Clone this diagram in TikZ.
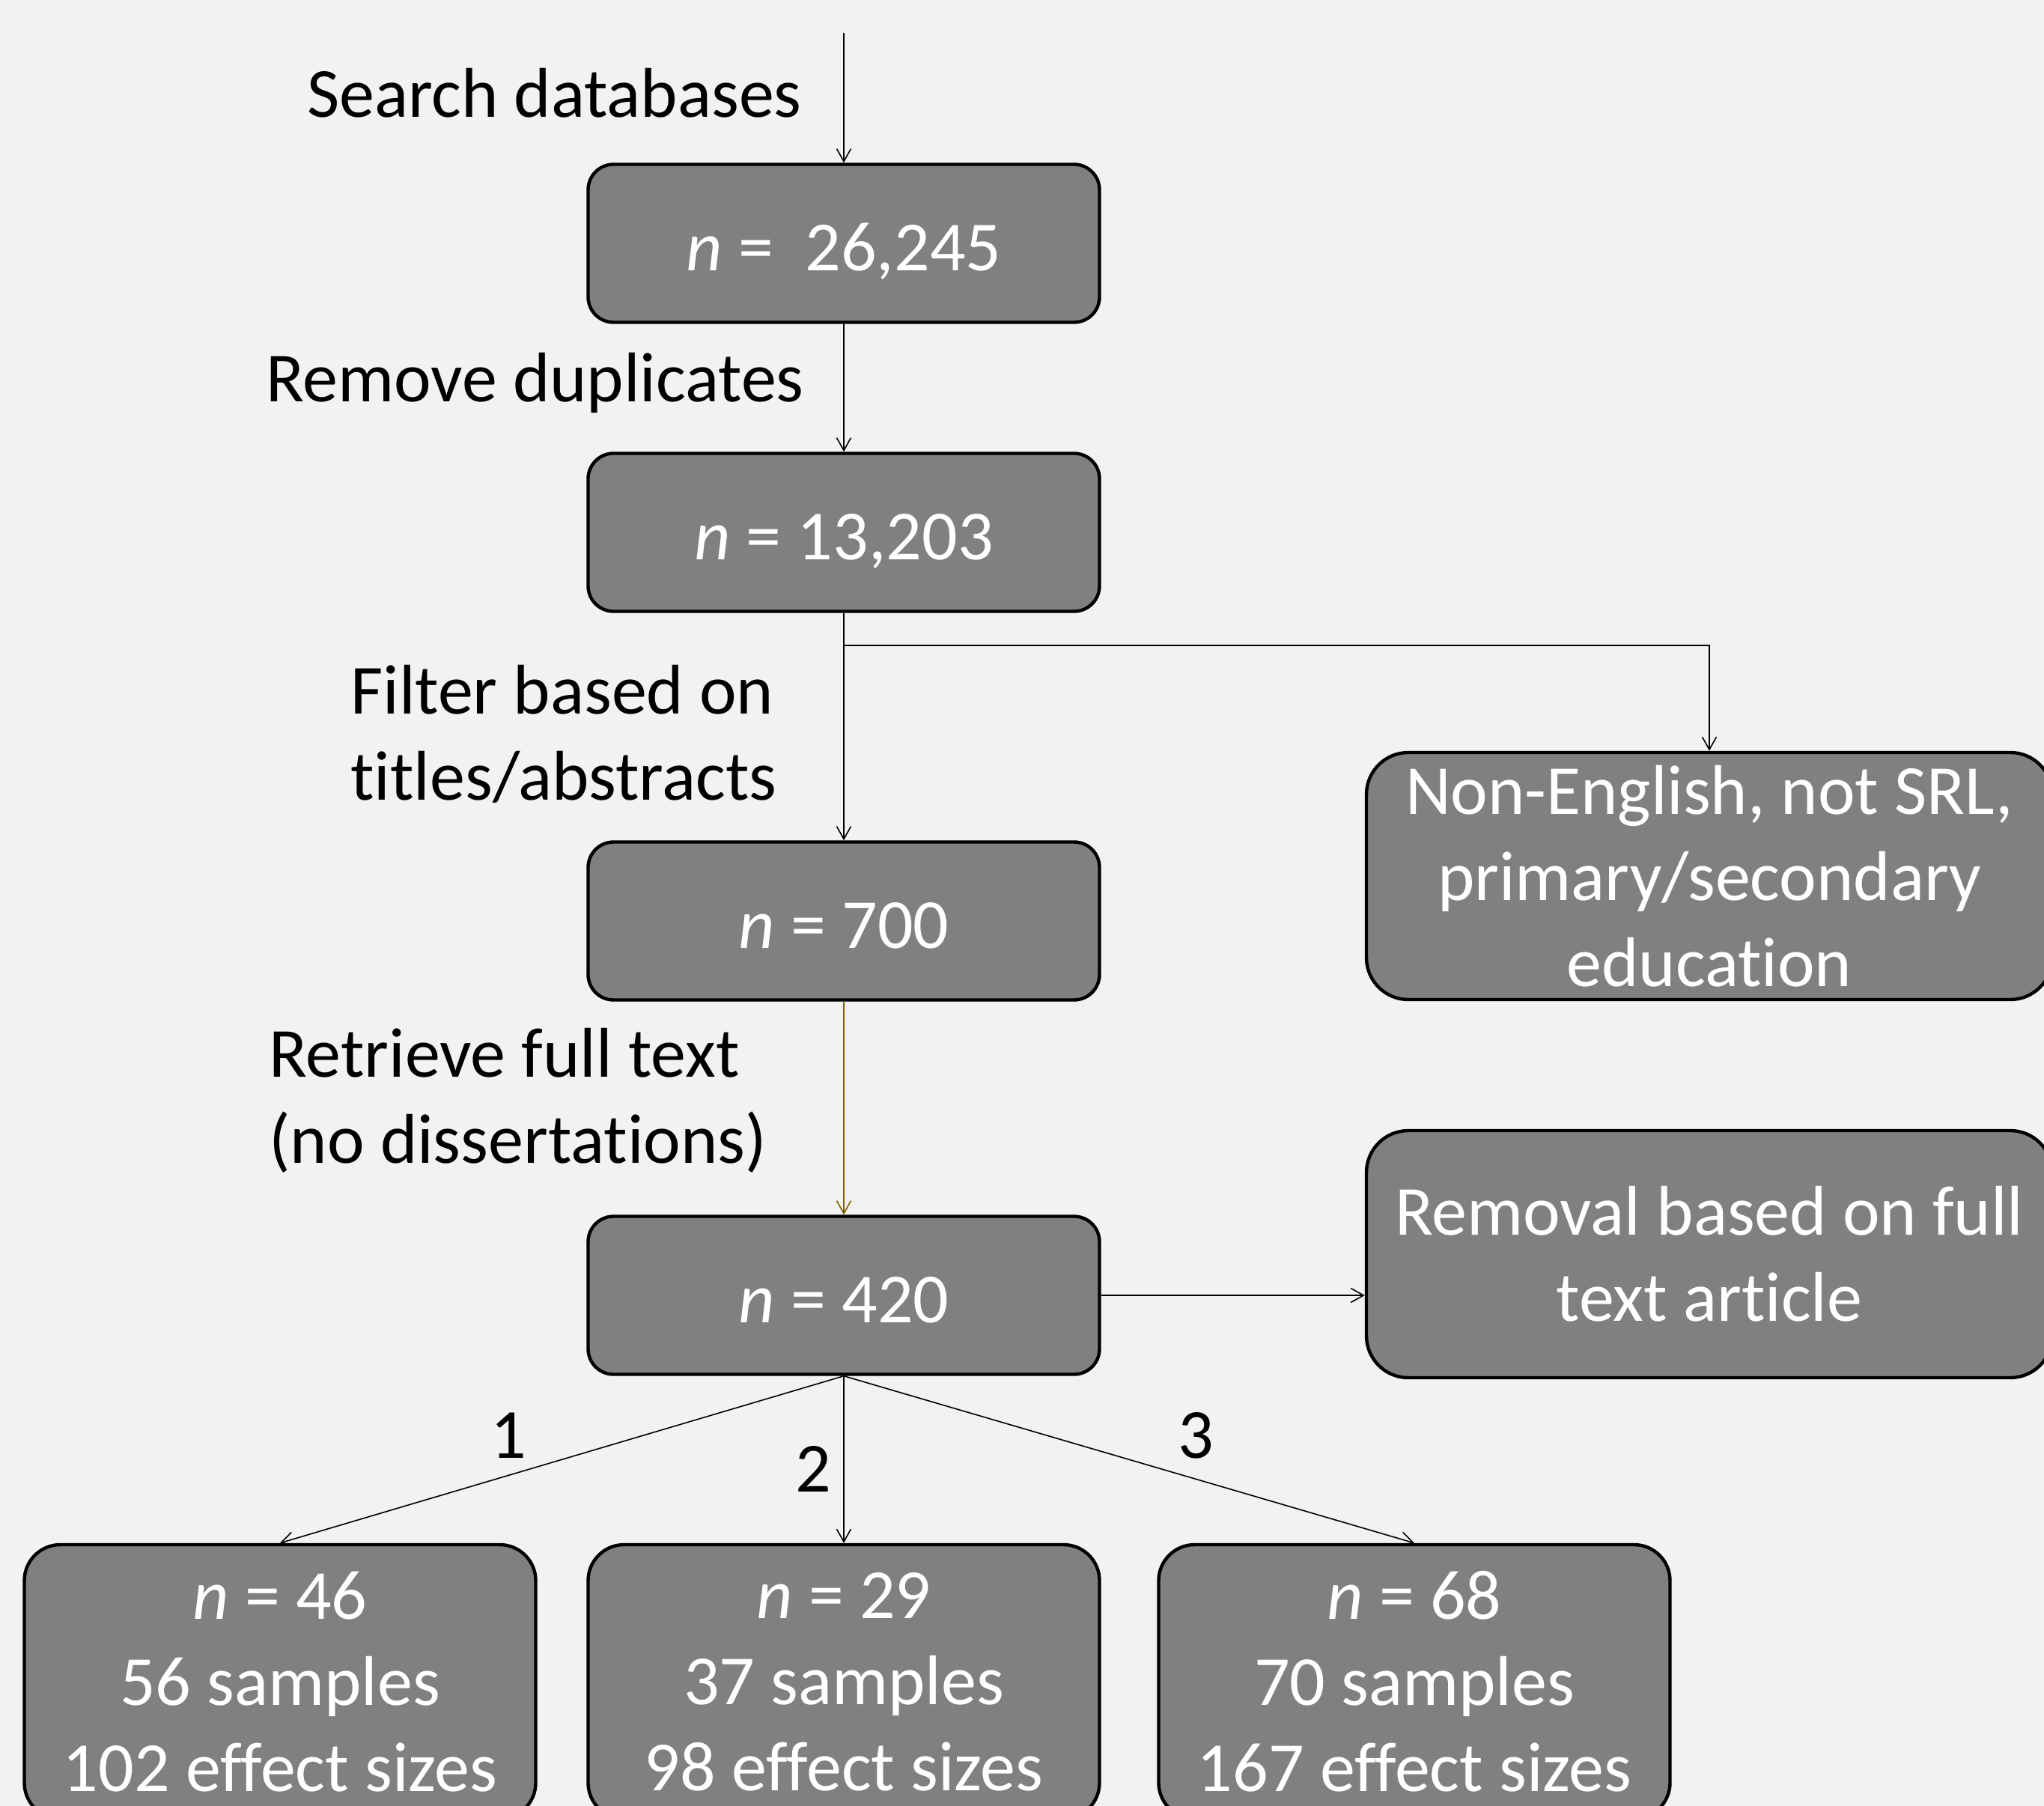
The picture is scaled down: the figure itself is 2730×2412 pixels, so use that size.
\documentclass[tikz,border=0pt]{standalone}
\usepackage{fontspec}
\setmainfont[RawFeature={-liga;-clig;-calt;-dlig}]{Carlito}
\usetikzlibrary{arrows.meta}
\definecolor{bg}{HTML}{F2F2F2}
\definecolor{boxgray}{HTML}{808080}
\definecolor{lineolive}{RGB}{127,96,0}
\newcommand\brk{\kern0pt }
\begin{document}
\begin{tikzpicture}[x=0.5pt,y=-0.5pt,
  basefont/.style={font=\fontsize{47}{57.5}\selectfont},
  box/.style={basefont, draw=black, line width=2.2pt, fill=boxgray, text=white,
    align=center, inner sep=0pt},
  smallbox/.style={box, rounded corners=17pt, minimum width=341.5pt, minimum height=105.5pt,
    text height=36.5pt, text depth=0pt},
  bigbox/.style={box, rounded corners=28pt, minimum width=458pt, minimum height=165pt},
  lowbox/.style={box, rounded corners=24pt, minimum width=341.5pt, minimum height=183pt},
  lbl/.style={basefont, text=black, inner sep=0pt},
  conn/.style={draw=black, line width=0.8pt, -{Straight Barb[length=8.5pt,width=9.5pt,line width=0.8pt]}}
]
\useasboundingbox (0,0) rectangle (2730,2412);
\clip (0,0) rectangle (2730,2412);
\fill[bg] (0,0) rectangle (2730,2412);

% boxes
\node[smallbox] (A) at (1127,325) {\textit{n} = \ 26,245};
\node[smallbox] (B) at (1127,711) {\textit{n} = 13,203};
\node[smallbox] (C) at (1127,1230) {\textit{n} = 700};
\node[smallbox] (D) at (1127,1730) {\textit{n} = 420};
\node[bigbox] (N) at (2283,1170) {Non-English, not SRL,\\primary/secondary\\educat\brk ion};
\node[bigbox] (R) at (2283,1675) {Removal based on full\\text art\brk icle};
\node[lowbox] (E1) at (374,2246) {\textit{n} = 46\\56 samples\\102 effect sizes};
\node[lowbox] (E2) at (1127,2246) {\textit{n} = 29\\37 samples\\98 effect sizes};
\node[lowbox] (E3) at (1889,2246) {\textit{n} = 68\\70 samples\\167 effect sizes};

% labels
\node[lbl, anchor=base east] (t1) at (1071,157) {Search databases};
\node[lbl, anchor=base east] (t2) at (1074,537) {Remove duplicates};
\node[lbl, anchor=west, align=left] (t3) at (468,980) {Filter based on\\t\brk itles/abstracts};
\node[lbl, anchor=west, align=left] (t4) at (359,1470) {Retrieve full text\\(no dissertat\brk ions)};
\node[lbl] (l1) at (679,1917) {1};
\node[lbl] (l2) at (1086,1962) {2};
\node[lbl] (l3) at (1597,1917) {3};

% connectors
\coordinate (start) at (1127,44);
\coordinate (br) at (1127,862);
\draw[conn] (start) -- (A.north);
\draw[conn] (A) -- (B);
\draw[conn] (B) -- (C);
\draw[conn] (br) -| (N.north);
\draw[conn, draw=lineolive, -{Straight Barb[length=8.5pt,width=9.5pt,line width=0.8pt,color=lineolive]}] (C) -- (D);
\draw[conn] (D.east) -- (D.east -| R.west);
\draw[conn] (D.south) -- (E1.north);
\draw[conn] (D.south) -- (E2.north);
\draw[conn] (D.south) -- (E3.north);
\end{tikzpicture}
\end{document}
